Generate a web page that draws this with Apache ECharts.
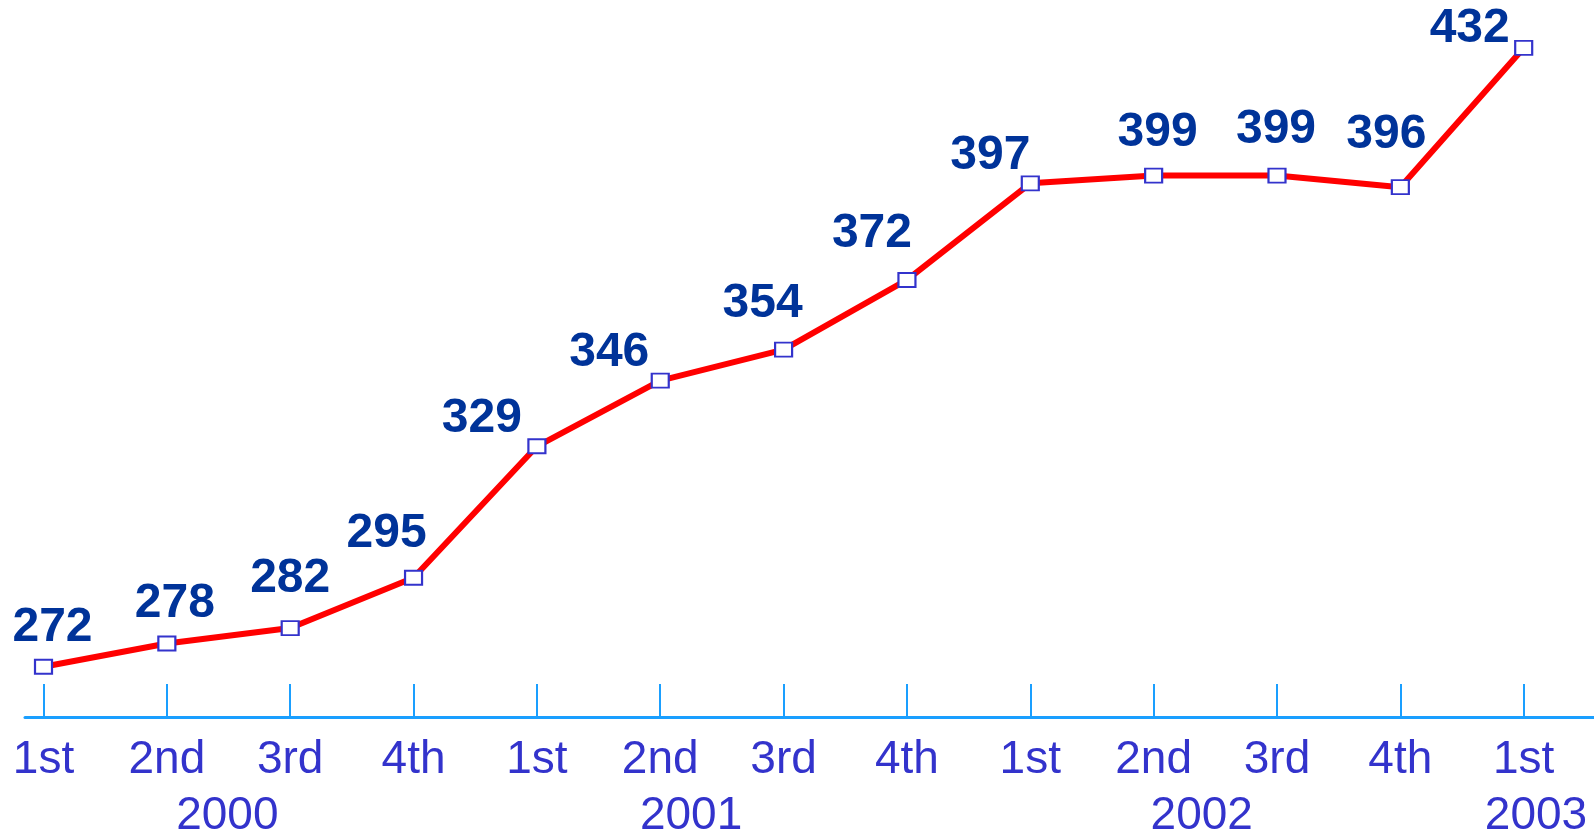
<!DOCTYPE html>
<html>
<head>
<meta charset="utf-8">
<script src="https://cdn.jsdelivr.net/npm/echarts@6/dist/echarts.min.js"></script>
<style>
html,body{margin:0;padding:0;background:#fff;}
#chart{width:1594px;height:836px;}
</style>
</head>
<body>
<div id="chart"></div>
<script>
// Data
const quarters = ['1st','2nd','3rd','4th','1st','2nd','3rd','4th','1st','2nd','3rd','4th','1st'];
const values = [272, 278, 282, 295, 329, 346, 354, 372, 397, 399, 399, 396, 432];
const years = ['2000', '2001', '2002', '2003'];
const yearPositions = [1.49, 5.25, 9.39, 12.1];

// Label placement (layout only)
const labelOffsets = [[9,-39],[8,-40],[0,-49],[-27,-44],[-55,-28],[-51,-28],[-21,-46],[-35,-46],[-40,-28],[4,-43],[-1,-46],[-14,-52],[-54,-19]];

const FONT = '"Liberation Sans", Arial, Helvetica, sans-serif';
const idx = quarters.map((q, i) => i);

const chart = echarts.init(document.getElementById('chart'));
chart.setOption({
  animation: false,
  backgroundColor: '#ffffff',
  grid: { left: 25, right: 0, top: 17, bottom: 119, containLabel: false, outerBoundsMode: 'none' },
  xAxis: [
    {
      type: 'value', min: -0.15, max: 12.57,
      axisLine: { show: true, lineStyle: { color: '#1a9fff', width: 3 } },
      axisTick: { show: true, inside: true, length: 33, customValues: idx, lineStyle: { color: '#1a9fff', width: 2 } },
      axisLabel: {
        show: true, customValues: idx, margin: 20,
        formatter: v => quarters[Math.round(v)],
        color: '#3333cc', fontSize: 46, fontFamily: FONT
      },
      splitLine: { show: false }
    },
    {
      type: 'value', min: -0.15, max: 12.57, position: 'bottom',
      axisLine: { show: false }, axisTick: { show: false }, splitLine: { show: false },
      axisLabel: {
        show: true, customValues: yearPositions, margin: 76,
        formatter: v => { const k = yearPositions.indexOf(v); return k >= 0 ? years[k] : ''; },
        color: '#3333cc', fontSize: 46, fontFamily: FONT
      }
    }
  ],
  yAxis: {
    type: 'value', min: 259, max: 440,
    show: false, splitLine: { show: false }
  },
  series: [{
    type: 'line',
    xAxisIndex: 0,
    data: values.map((v, i) => ({
      value: [i, v],
      label: { offset: labelOffsets[i] }
    })),
    lineStyle: { color: '#ff0000', width: 6 },
    symbol: 'rect', symbolSize: [17, 14],
    itemStyle: { color: '#ffffff', borderColor: '#3333cc', borderWidth: 2 },
    label: {
      show: true, position: 'inside',
      formatter: p => p.value[1],
      color: '#003399', fontSize: 48, fontWeight: 'bold', fontFamily: FONT
    },
    z: 3
  }]
});
</script>
</body>
</html>
